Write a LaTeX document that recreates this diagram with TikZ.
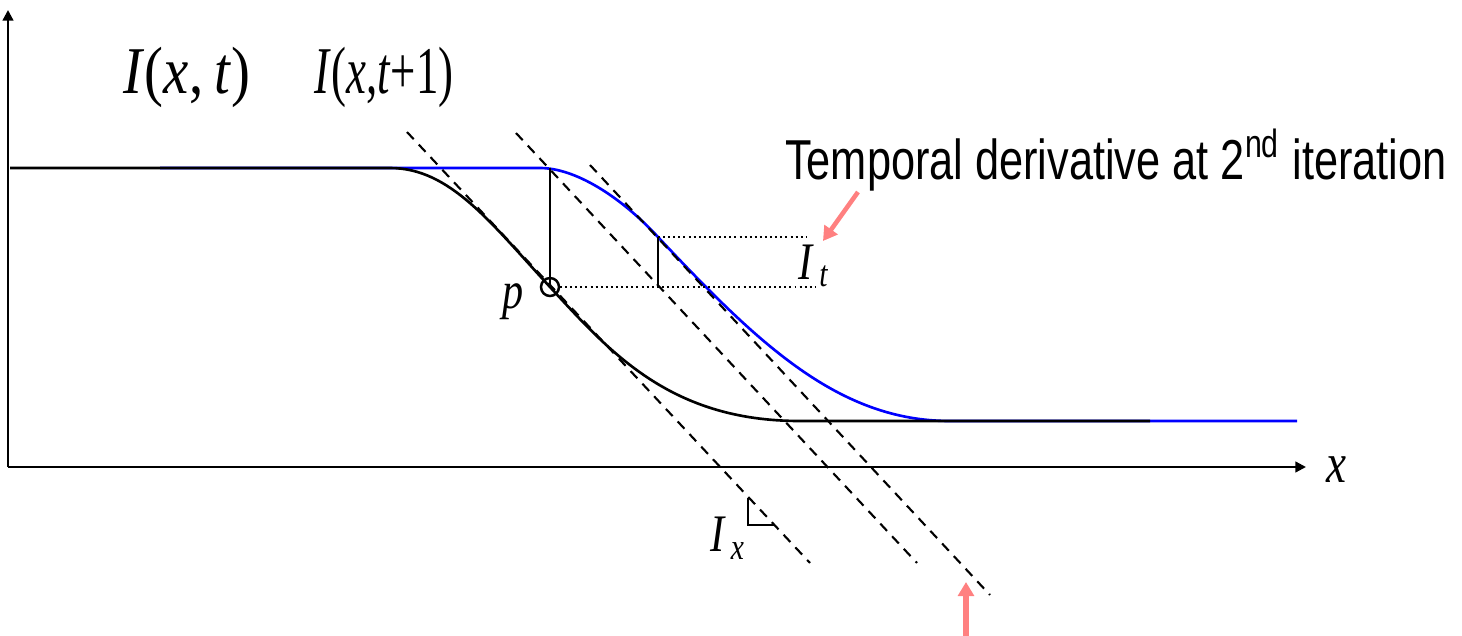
\documentclass[tikz,border=0pt]{standalone}
\usepackage{amsmath}
\usepackage{graphicx}
\usepackage{fontspec}
\setmainfont{Liberation Serif}
\newfontfamily\lblfont[FakeStretch=0.8]{Liberation Serif}
\newfontfamily\eqfont[FakeStretch=0.85]{Liberation Serif}
\newfontfamily\notefont[FakeStretch=0.77]{Liberation Sans}
\usetikzlibrary{arrows.meta,calc,positioning}
\definecolor{CurveBlue}{HTML}{0000FF}
\definecolor{NotePink}{HTML}{FF8080}
\tikzset{
  every node/.style={font=\lblfont, inner sep=0pt},
  curve/.style={line width=0.75pt},
  axis/.style={line width=0.65pt,-{Triangle[length=3pt,width=3pt]}},
  tangent/.style={line width=0.6pt,dash pattern=on 2.8pt off 2.1pt},
  guide/.style={line width=0.55pt,dash pattern=on 0.55pt off 0.9pt},
  pinkarrow/.style={NotePink,-{Triangle[length=4pt,width=4.5pt]}}
}

\begin{document}
\begin{tikzpicture}[x=0.01cm,y=-0.01cm]
  \useasboundingbox (0,0) rectangle (1462,636);
  % --- axes ---
  \coordinate (O) at (8,467);
  \coordinate (yEnd) at (8,10);
  \coordinate (xEnd) at (1306,467);
  \draw[axis] (O) -- (yEnd);
  \draw[axis] (O) -- (xEnd);
  \node[font=\lblfont\fontsize{16}{18}\selectfont\itshape] (xlab) at (1336,470) {x};
  % --- I(x,t+1): blue, shifted right ---
  \draw[curve,CurveBlue] (160,168) -- (540,168)
    .. controls (575,168) and (620,196) .. (658,237)
    .. controls (760,346) and (840,421) .. (950,421) -- (1297,421);
  % --- I(x,t): black ---
  \draw[curve] (10,168) -- (390,168)
    .. controls (450,168) and (490,222) .. (550,287)
    .. controls (610,352) and (670,421) .. (800,421) -- (1150,421);
  % --- points ---
  \coordinate (p) at (550,287);
  \coordinate (pTop) at (550,168);
  \coordinate (q) at (658,237);
  \coordinate (qLow) at (658,287);
  % --- tangent lines (dashed) ---
  \draw[tangent] (407,132) -- (810,563);
  \draw[tangent] (516,133) -- (917,563);
  \draw[tangent] (590,165) -- (990,595);
  % --- differences ---
  \draw[line width=0.7pt] (pTop) -- (p);
  \draw[line width=0.7pt] (q) -- (qLow);
  \draw[guide] (q) -- (806,237);
  \draw[guide] (560,287) -- (815,287);
  \draw[line width=0.7pt] (p) circle (9);
  \node[font=\lblfont\fontsize{15}{17}\selectfont\itshape] (plab) at (513,302) {p};
  % --- right angle mark ---
  \draw[line width=0.65pt] (748,498) -- (748,525) -- (774,525);
  % --- labels ---
  \node[font=\eqfont\fontsize{19}{21}\selectfont] (Ixt) at (187,77)
    {\textit{I}(\textit{x},\,\textit{t})};
  \node[font=\eqfont\fontsize{19}{21}\selectfont] (Ixt1) at (384,77)
    {\scalebox{0.79}[1]{\textit{I}(\textit{x},\textit{t}+1)}};
  \node[font=\lblfont\fontsize{15}{17}\selectfont] (It) at (814,266)
    {$\textit{I}_{\,\textit{t}}$};
  \node[font=\lblfont\fontsize{15}{17}\selectfont] (Ix) at (728,538)
    {$\textit{I}_{\,\textit{x}}$};
  \node[font=\notefont\fontsize{16}{18}\selectfont] (note) at (1116,160)
    {Temporal derivative at 2\textsuperscript{nd} iteration};
  % --- pink pointers ---
  \coordinate (itTail) at (858,192);
  \coordinate (itTip) at (823,241);
  \draw[pinkarrow,line width=1.3pt] (itTail) -- (itTip);
  \coordinate (lnTail) at (966,640);
  \coordinate (lnTip) at (966,582);
  \draw[pinkarrow,line width=1.8pt] (lnTail) -- (lnTip);
\end{tikzpicture}
\end{document}
